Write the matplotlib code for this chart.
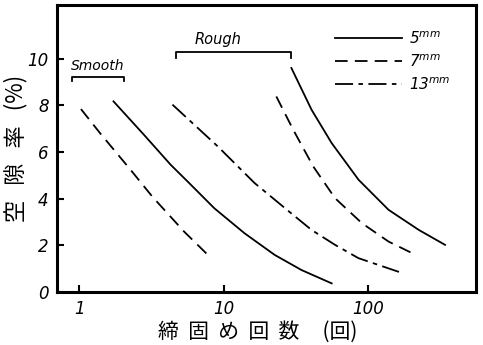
import numpy as np
import matplotlib
matplotlib.use('Agg')
import matplotlib.pyplot as plt

plt.rcParams['font.family'] = ['Noto Sans CJK JP', 'DejaVu Sans']

# values (compaction count, void ratio %)
smooth_5_x = [1.73, 2.81, 4.31, 5.78, 8.63, 13.96, 22.6, 34.7, 56.1]
smooth_5_y = [8.17, 6.74, 5.45, 4.67, 3.59, 2.52, 1.59, 0.94, 0.37]
smooth_7_x = [1.03, 1.40, 2.27, 3.21, 5.33, 7.67]
smooth_7_y = [7.84, 6.80, 5.24, 4.09, 2.59, 1.63]
rough_5_x = [29.5, 40.7, 56.1, 86.1, 139, 225, 342]
rough_5_y = [9.60, 7.81, 6.38, 4.81, 3.52, 2.66, 2.02]
rough_7_x = [23.2, 30.4, 41.8, 59.2, 90.8, 139, 197]
rough_7_y = [8.38, 6.95, 5.38, 4.02, 2.95, 2.16, 1.70]
rough_13_x = [4.43, 9.12, 16.4, 30.4, 40.7, 59.2, 86, 164]
rough_13_y = [8.03, 6.24, 4.67, 3.30, 2.66, 2.02, 1.45, 0.86]

smooth_range = [0.89, 2.06]
rough_range = [4.67, 29.5]
legend_labels = ['5$^{mm}$', '7$^{mm}$', '13$^{mm}$']

fig = plt.figure(figsize=(4.83, 3.45), dpi=100)
ax = fig.add_axes([57/483, 53/345, 419/483, 287/345])

dash7 = (0, (7, 4))
dash13 = (0, (10, 3, 2.5, 3))
lw = 1.3

ax.plot(smooth_5_x, smooth_5_y, 'k-', lw=lw)
ax.plot(smooth_7_x, smooth_7_y, color='k', ls=dash7, lw=lw)
l5, = ax.plot(rough_5_x, rough_5_y, 'k-', lw=lw, label=legend_labels[0])
l7, = ax.plot(rough_7_x, rough_7_y, color='k', ls=dash7, lw=lw, label=legend_labels[1])
l13, = ax.plot(rough_13_x, rough_13_y, color='k', ls=dash13, lw=lw, label=legend_labels[2])

# brackets for Smooth / Rough groups
def bracket(rng, y, drop):
    ax.plot([rng[0], rng[0], rng[1], rng[1]], [y - drop, y, y, y - drop], 'k-', lw=1.3)

bracket(smooth_range, 9.23, 0.2)
bracket(rough_range, 10.3, 0.25)
ax.text(np.sqrt(smooth_range[0]*smooth_range[1]), 9.4, 'Smooth', ha='center', va='bottom',
        fontsize=10, style='italic', family='DejaVu Sans')
ax.text(9.2, 10.5, 'Rough', ha='center', va='bottom',
        fontsize=10.5, style='italic', family='DejaVu Sans')

ax.set_xscale('log')
ax.set_xlim(0.703, 560)
ax.set_ylim(0, 12.3)
ax.set_xticks([1, 10, 100])
ax.set_xticklabels(['1', '10', '100'])
ax.xaxis.set_minor_locator(matplotlib.ticker.NullLocator())
ax.set_yticks([0, 2, 4, 6, 8, 10])
ax.tick_params(direction='in', length=5, width=1.5, labelsize=12, pad=6)
for lab in ax.get_xticklabels() + ax.get_yticklabels():
    lab.set_style('italic')
    lab.set_family('DejaVu Sans')
for sp in ax.spines.values():
    sp.set_linewidth(2.2)

ax.set_xlabel('締  固  め  回  数     (回)', fontsize=15, labelpad=1)
ax.xaxis.set_label_coords(0.48, -0.1)
ax.set_ylabel('空   隙   率   (%)', fontsize=16, labelpad=0)

leg = ax.legend(handles=[l5, l7, l13], loc='upper left', bbox_to_anchor=(0.663, 0.913),
                frameon=False, handlelength=4.4, handletextpad=0.45, labelspacing=0.42,
                borderpad=0, borderaxespad=0, prop={'family': 'DejaVu Sans', 'style': 'italic', 'size': 11})

fig.savefig('out.png', dpi=100)
